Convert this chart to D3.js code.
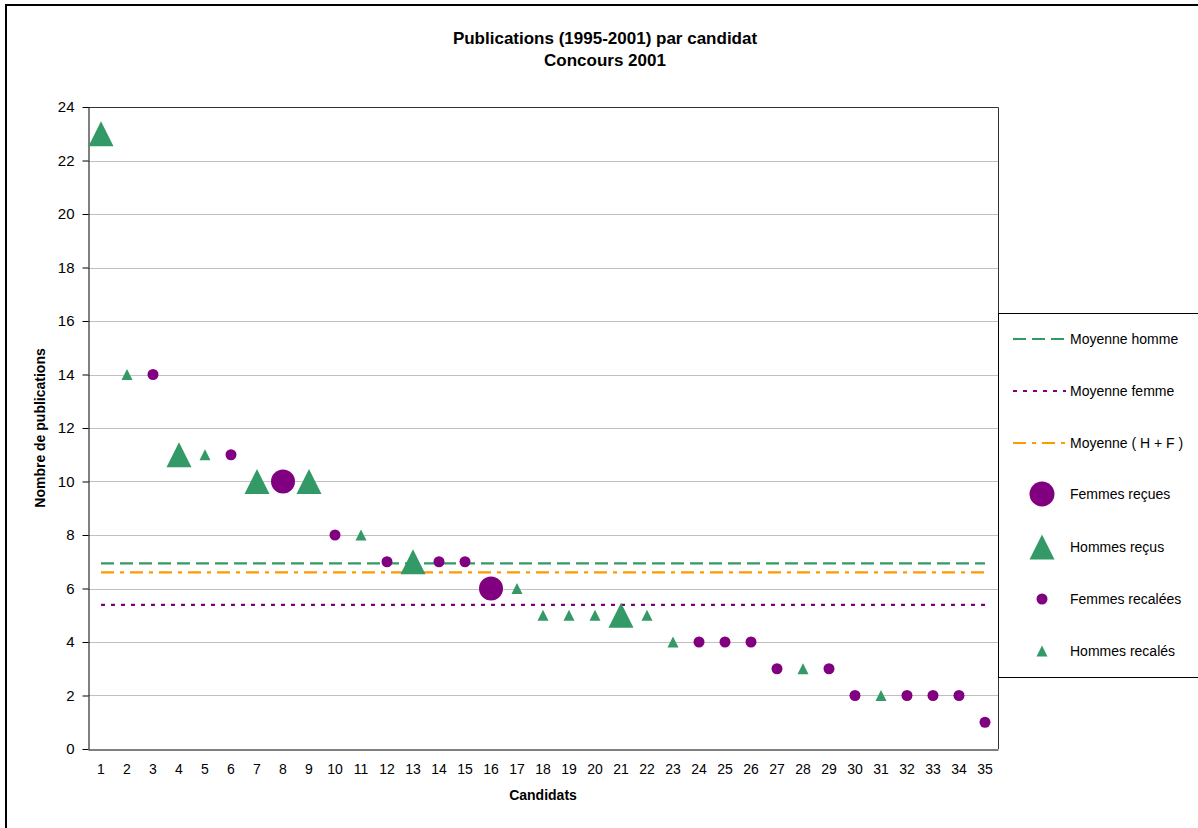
<!DOCTYPE html>
<html>
<head>
<meta charset="utf-8">
<script src="https://cdn.jsdelivr.net/npm/d3@7"></script>
<style>
  html, body { margin: 0; padding: 0; background: #fff; }
  svg { display: block; font-family: "Liberation Sans", Arial, sans-serif; }
</style>
</head>
<body>
<svg id="chart" width="1198" height="828"></svg>
<script>
// ---- Data ----
const titleLines = ["Publications (1995-2001) par candidat", "Concours 2001"];
const xTitle = "Candidats";
const yTitle = "Nombre de publications";
const candidats = ["1","2","3","4","5","6","7","8","9","10","11","12","13","14","15","16","17","18","19","20","21","22","23","24","25","26","27","28","29","30","31","32","33","34","35"];
const yTicks = [0, 2, 4, 6, 8, 10, 12, 14, 16, 18, 20, 22, 24];
// one value per candidate, null when the candidate is not in the series
const femmesRecues   = [null,null,null,null,null,null,null,10,null,null,null,null,null,null,null,6,null,null,null,null,null,null,null,null,null,null,null,null,null,null,null,null,null,null,null];
const hommesRecus    = [23,null,null,11,null,null,10,null,10,null,null,null,7,null,null,null,null,null,null,null,5,null,null,null,null,null,null,null,null,null,null,null,null,null,null];
const femmesRecalees = [null,null,14,null,null,11,null,null,null,8,null,7,null,7,7,null,null,null,null,null,null,null,null,4,4,4,3,null,3,2,null,2,2,2,1];
const hommesRecales  = [null,14,null,null,11,null,null,null,null,null,8,null,null,null,null,null,6,5,5,5,null,5,4,null,null,null,null,3,null,null,2,null,null,null,null];
const moyenneHomme = 6.94;
const moyenneFemme = 5.39;
const moyenneHF = 6.6;
const legendLabels = ["Moyenne homme", "Moyenne femme", "Moyenne ( H + F )", "Femmes reçues", "Hommes reçus", "Femmes recalées", "Hommes recalés"];

// ---- Styles ----
const GREEN = "#339966", PURPLE = "#800080", ORANGE = "#FF9900";
const svg = d3.select("#chart");
const plot = { left: 88, right: 998, top: 107, bottom: 749 };

const x = d3.scaleBand().domain(candidats).range([plot.left, plot.right]);
const y = d3.scaleLinear().domain([0, 24]).range([plot.bottom, plot.top]);
const cx = c => x(c) + x.bandwidth() / 2;

// outer border
svg.append("rect").attr("x", 6).attr("y", 5).attr("width", 1300).attr("height", 900)
  .attr("fill", "#fff").attr("stroke", "#000").attr("stroke-width", 2);

// gridlines
svg.append("g").selectAll("line").data(yTicks.filter(t => t > 0 && t < 24)).join("line")
  .attr("x1", plot.left).attr("x2", plot.right)
  .attr("y1", d => Math.round(y(d)) + 0.5).attr("y2", d => Math.round(y(d)) + 0.5)
  .attr("stroke", "#c0c0c0").attr("stroke-width", 1);

// plot border top/right
svg.append("path")
  .attr("d", `M${plot.left},${plot.top + 0.5}H${plot.right + 0.5}V${plot.bottom}`)
  .attr("fill", "none").attr("stroke", "#333").attr("stroke-width", 1);

// y axis
const yAxis = svg.append("g").attr("transform", `translate(${plot.left + 0.5},0)`)
  .call(d3.axisLeft(y).tickValues(yTicks).tickSize(6).tickSizeOuter(0).tickPadding(8));
yAxis.select(".domain").attr("stroke", "#000");
yAxis.selectAll(".tick line").attr("stroke", "#000");
yAxis.selectAll("text").attr("font-size", 15).attr("fill", "#000")
  .attr("font-family", "Liberation Sans, Arial, sans-serif");

// x axis
const xAxis = svg.append("g").attr("transform", `translate(0,${plot.bottom + 0.5})`)
  .call(d3.axisBottom(x).tickSize(0).tickSizeOuter(0).tickPadding(15));
xAxis.select(".domain").attr("stroke", "#000");
xAxis.selectAll("text").attr("font-size", 14).attr("fill", "#000")
  .attr("font-family", "Liberation Sans, Arial, sans-serif");

// mean lines
const x0 = cx(candidats[0]), x1 = cx(candidats[candidats.length - 1]);
const means = [
  { v: moyenneHomme, color: GREEN, dash: "13,6" },
  { v: moyenneFemme, color: PURPLE, dash: "4,6" },
  { v: moyenneHF, color: ORANGE, dash: "13,6,4,6" }
];
svg.append("g").selectAll("line").data(means).join("line")
  .attr("x1", x0).attr("x2", x1)
  .attr("y1", d => y(d.v)).attr("y2", d => y(d.v))
  .attr("stroke", d => d.color).attr("stroke-width", 2.2)
  .attr("stroke-dasharray", d => d.dash);

// markers
function triPath(cxp, cyp, w) {
  const h = w;
  return `M${cxp},${cyp - h / 2}L${cxp + w / 2},${cyp + h / 2}L${cxp - w / 2},${cyp + h / 2}Z`;
}
function drawCircles(arr, r, color) {
  svg.append("g").selectAll("circle")
    .data(arr.map((v, i) => ({ c: candidats[i], v })).filter(d => d.v !== null))
    .join("circle").attr("cx", d => cx(d.c)).attr("cy", d => y(d.v)).attr("r", r).attr("fill", color);
}
function drawTris(arr, w, color) {
  svg.append("g").selectAll("path")
    .data(arr.map((v, i) => ({ c: candidats[i], v })).filter(d => d.v !== null))
    .join("path").attr("d", d => triPath(cx(d.c), y(d.v), w)).attr("fill", color);
}
drawCircles(femmesRecalees, 5.5, PURPLE);
drawTris(hommesRecales, 11, GREEN);
drawCircles(femmesRecues, 12, PURPLE);
drawTris(hommesRecus, 25, GREEN);

// titles
svg.append("text").attr("x", 605).attr("y", 44).attr("text-anchor", "middle")
  .attr("font-size", 17).attr("font-weight", "bold").text(titleLines[0]);
svg.append("text").attr("x", 605).attr("y", 66).attr("text-anchor", "middle")
  .attr("font-size", 17).attr("font-weight", "bold").text(titleLines[1]);
svg.append("text").attr("x", 543).attr("y", 800).attr("text-anchor", "middle")
  .attr("font-size", 14).attr("font-weight", "bold").text(xTitle);
svg.append("text").attr("transform", "translate(45,428) rotate(-90)").attr("text-anchor", "middle")
  .attr("font-size", 14).attr("font-weight", "bold").text(yTitle);

// legend
const lg = svg.append("g");
lg.append("rect").attr("x", 998.5).attr("y", 313.5).attr("width", 220).attr("height", 364)
  .attr("fill", "#fff").attr("stroke", "#000").attr("stroke-width", 1);
const ly = [339, 391, 443, 494, 547, 599, 651];
const lmx = 1042;
means.forEach((m, i) => {
  lg.append("line").attr("x1", 1013).attr("x2", 1066).attr("y1", ly[i]).attr("y2", ly[i])
    .attr("stroke", m.color).attr("stroke-width", 2.2).attr("stroke-dasharray", m.dash);
});
lg.append("circle").attr("cx", lmx).attr("cy", ly[3]).attr("r", 12.5).attr("fill", PURPLE);
lg.append("path").attr("d", triPath(lmx, ly[4], 25)).attr("fill", GREEN);
lg.append("circle").attr("cx", lmx).attr("cy", ly[5]).attr("r", 5.5).attr("fill", PURPLE);
lg.append("path").attr("d", triPath(lmx, ly[6], 11)).attr("fill", GREEN);
legendLabels.forEach((t, i) => {
  lg.append("text").attr("x", 1070).attr("y", ly[i]).attr("dy", "0.35em")
    .attr("font-size", 14).attr("fill", "#000").text(t);
});
</script>
</body>
</html>
